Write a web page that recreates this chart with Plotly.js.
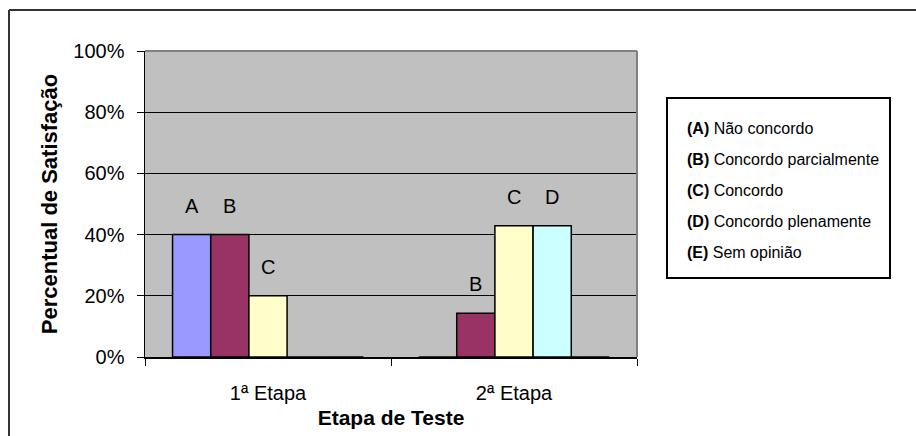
<!DOCTYPE html>
<html>
<head>
<meta charset="utf-8">
<script src="https://cdn.plot.ly/plotly-3.0.1.min.js"></script>
<style>html,body{margin:0;padding:0;background:#fff;}#chart{width:916px;height:436px;}</style>
</head>
<body>
<div id="chart"></div>
<script>
// ---- data ----
const categories = ["1ª Etapa", "2ª Etapa"];
const seriesKeys = ["A", "B", "C", "D", "E"];
const seriesNames = ["Não concordo", "Concordo parcialmente", "Concordo", "Concordo plenamente", "Sem opinião"];
const seriesA = [40, 0];
const seriesB = [40, 14.29];
const seriesC = [20, 42.86];
const seriesD = [0, 42.86];
const seriesE = [0, 0];
const yTickVals = [0, 20, 40, 60, 80, 100];
const yTickText = ["0%", "20%", "40%", "60%", "80%", "100%"];

const seriesValues = [seriesA, seriesB, seriesC, seriesD, seriesE];
const colors = ["#9999FF", "#993366", "#FFFFCC", "#CCFFFF", "#660066"];

const W = 916, H = 436;
const M = {l: 145, r: 279, t: 51, b: 79};
const PW = W - M.l - M.r, PH = H - M.t - M.b;
const px = x => (x - M.l) / PW;
const py = y => (H - M.b - y) / PH;
const FONT = "Liberation Sans, Arial, sans-serif";
const bargap = 0.224;

const traces = seriesValues.map((vals, i) => ({
  type: "bar",
  name: "(" + seriesKeys[i] + ") " + seriesNames[i],
  x: categories,
  y: vals,
  marker: {color: colors[i], line: {color: "#000", width: 1.5}},
  hoverinfo: "none"
}));

// value labels above bars (letters)
const slot = (1 - bargap) / seriesValues.length;
const annotations = [];
seriesValues.forEach((vals, i) => {
  vals.forEach((v, c) => {
    if (v > 0) {
      annotations.push({
        xref: "x", yref: "y",
        x: c + (i - (seriesValues.length - 1) / 2) * slot,
        y: v, text: seriesKeys[i], showarrow: false,
        yanchor: "bottom", yshift: 16,
        font: {family: FONT, size: 20, color: "#000"}
      });
    }
  });
});

// custom legend (text only, boxed)
const legendTop = 128, legendStep = 31;
seriesKeys.forEach((k, i) => {
  annotations.push({
    xref: "paper", yref: "paper",
    x: px(685), y: py(legendTop + i * legendStep),
    xanchor: "left", yanchor: "middle", showarrow: false,
    text: "<b>(" + k + ")</b> " + seriesNames[i],
    font: {family: FONT, size: 16, color: "#000"}
  });
});

const shapes = [
  // legend box
  {type: "rect", xref: "paper", yref: "paper", x0: px(667), x1: px(890), y0: py(98), y1: py(278),
   line: {color: "#000", width: 2}, fillcolor: "rgba(0,0,0,0)"},
  // plot area top/right border
  {type: "line", xref: "paper", yref: "paper", x0: 0, x1: 1, y0: 1, y1: 1, line: {color: "#808080", width: 2}},
  {type: "line", xref: "paper", yref: "paper", x0: 1, x1: 1, y0: 0, y1: 1, line: {color: "#808080", width: 2}},
  // outer chart frame (left + top)
  {type: "line", xref: "paper", yref: "paper", x0: px(9), x1: px(9), y0: py(10), y1: py(440), line: {color: "#333", width: 2}},
  {type: "line", xref: "paper", yref: "paper", x0: px(9), x1: px(920), y0: py(10), y1: py(10), line: {color: "#333", width: 2}}
];

const layout = {
  width: W, height: H,
  margin: M,
  paper_bgcolor: "#fff",
  plot_bgcolor: "#C0C0C0",
  barmode: "group",
  bargap: bargap,
  bargroupgap: 0,
  showlegend: false,
  font: {family: FONT, color: "#000"},
  xaxis: {
    type: "category",
    tickson: "boundaries",
    ticks: "outside", ticklen: 7, tickcolor: "#000", tickwidth: 1,
    showline: true, linecolor: "#000", linewidth: 1.5,
    showgrid: false,
    tickfont: {family: FONT, size: 20, color: "#000"},
    ticklabelstandoff: 17,
    title: {text: "Etapa de Teste", font: {family: FONT, size: 21, color: "#000", weight: "bold"}, standoff: 8},
    automargin: false
  },
  yaxis: {
    range: [0, 100],
    tickvals: yTickVals, ticktext: yTickText,
    ticks: "outside", ticklen: 7, tickcolor: "#000", tickwidth: 1,
    showline: true, linecolor: "#000", linewidth: 1.5,
    showgrid: true, gridcolor: "#000", gridwidth: 1,
    zeroline: false,
    tickfont: {family: FONT, size: 20, color: "#000"},
    ticklabelstandoff: 8,
    title: {text: "Percentual de Satisfação", font: {family: FONT, size: 22, color: "#000", weight: "bold"}, standoff: 9},
    automargin: false
  },
  annotations: annotations,
  shapes: shapes
};

Plotly.newPlot("chart", traces, layout, {displayModeBar: false, staticPlot: true});
</script>
</body>
</html>
